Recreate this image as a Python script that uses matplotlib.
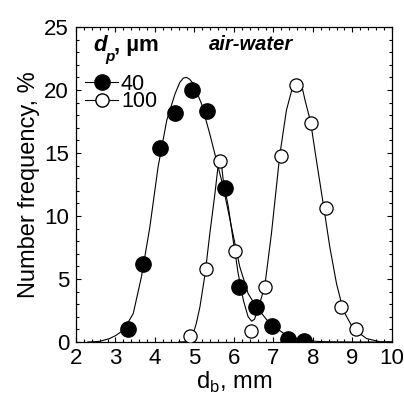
import matplotlib
import matplotlib.pyplot as plt
from matplotlib.ticker import MultipleLocator
from matplotlib.lines import Line2D

matplotlib.use('agg')

plt.rcParams['font.family'] = ['Liberation Sans', 'DejaVu Sans']
plt.rcParams['mathtext.fontset'] = 'custom'
plt.rcParams['mathtext.rm'] = 'Liberation Sans'

# measured points, d_p = 40 um (filled) and 100 um (open)
db_40 = [3.32, 3.70, 4.13, 4.52, 4.93, 5.33, 5.77, 6.14, 6.56, 6.97, 7.38, 7.78]
freq_40 = [1.0, 6.2, 15.4, 18.2, 20.0, 18.3, 12.2, 4.4, 2.8, 1.25, 0.2, 0.05]
db_100 = [4.89, 5.29, 5.65, 6.03, 6.42, 6.79, 7.18, 7.57, 7.94, 8.33, 8.70, 9.09]
freq_100 = [0.45, 5.8, 14.4, 7.2, 0.85, 4.4, 14.8, 20.4, 17.4, 10.6, 2.8, 1.0]

# fitted curves
fit_x_40 = [2.3, 2.6, 2.85, 3.0, 3.2, 3.45, 3.66, 3.87, 4.08, 4.3, 4.51, 4.63,
            4.72, 4.8, 4.88, 4.97, 5.18, 5.39, 5.56, 5.73, 5.94, 6.15, 6.36,
            6.57, 6.91, 7.33, 7.75, 8.2, 9.0, 10.0]
fit_y_40 = [0.0, 0.05, 0.27, 0.5, 0.93, 2.25, 5.2, 9.1, 13.9, 17.6, 19.7, 20.6,
            20.95, 21.0, 20.85, 20.5, 18.9, 16.5, 14.4, 12.3, 9.1, 5.95, 3.84,
            2.78, 1.46, 0.53, 0.13, 0.03, 0.0, 0.0]
fit_x_100 = [4.6, 4.8, 4.9, 4.97, 5.05, 5.14, 5.27, 5.39, 5.52, 5.6, 5.64, 5.68,
             5.73, 5.86, 5.98, 6.11, 6.24, 6.36, 6.45, 6.52, 6.6, 6.78, 6.95,
             7.16, 7.33, 7.5, 7.58, 7.64, 7.7, 7.8, 7.94, 8.09, 8.26, 8.43, 8.6,
             8.77, 9.02, 9.36, 9.7, 10.0]
fit_y_100 = [0.0, 0.02, 0.2, 0.67, 1.5, 2.8, 5.4, 8.6, 11.8, 14.0, 14.55, 14.3,
             12.8, 10.7, 8.1, 5.4, 3.3, 2.0, 1.65, 1.8, 2.5, 4.4, 8.6, 14.8,
             18.4, 20.4, 20.8, 20.8, 20.6, 19.2, 17.5, 14.4, 11.0, 7.5, 4.6,
             2.5, 1.06, 0.27, 0.02, 0.0]

fig = plt.figure(figsize=(4.04, 3.94), dpi=100)
ax = fig.add_axes([0.188, 0.132, 0.782, 0.7995])

ax.plot(fit_x_40, fit_y_40, color='black', lw=0.8)
ax.plot(fit_x_100, fit_y_100, color='black', lw=0.8)
ax.plot(db_40, freq_40, 'o', color='black', ms=11, zorder=3)
ax.plot(db_100, freq_100, 'o', mfc='white', mec='black', mew=0.9, ms=9.5, zorder=3)

ax.set_xlim(2, 10)
ax.set_ylim(0, 25)
ax.xaxis.set_major_locator(MultipleLocator(1))
ax.xaxis.set_minor_locator(MultipleLocator(0.2))
ax.yaxis.set_major_locator(MultipleLocator(5))
ax.yaxis.set_minor_locator(MultipleLocator(1))
ax.tick_params(which='both', direction='in', top=True, right=True, labelsize=16, width=0.8)
ax.tick_params(which='major', length=3.5, pad=4)
ax.tick_params(which='minor', length=2)
ax.tick_params(axis='y', pad=5)
for s in ax.spines.values():
    s.set_linewidth(0.9)

ax.set_xlabel(r'd$_\mathregular{b}$, mm', fontsize=17, labelpad=1)
ax.set_ylabel('Number frequency, %', fontsize=17, labelpad=3)

# legend title and label
ax.text(0.054, 0.925, 'd', transform=ax.transAxes, fontsize=16,
        fontweight='bold', fontstyle='italic')
ax.text(0.092, 0.893, 'p', transform=ax.transAxes, fontsize=11,
        fontweight='bold', fontstyle='italic')
ax.text(0.12, 0.925, ', µm', transform=ax.transAxes, fontsize=16, fontweight='bold')
ax.text(0.554, 0.943, 'air-water', transform=ax.transAxes, fontsize=14.5,
        fontweight='bold', fontstyle='italic', ha='center', va='center')

handles = [Line2D([], [], color='black', lw=0.8, marker='o', ms=11),
           Line2D([], [], color='black', lw=0.8, marker='o', ms=9.5,
                  mfc='white', mec='black')]
ax.legend(handles, ['40', '100'], loc='upper left', bbox_to_anchor=(0.03, 0.852),
          frameon=False, fontsize=15.5, handlelength=1.5, handletextpad=0.15,
          labelspacing=-0.15, borderpad=0, borderaxespad=0)

plt.savefig('out.png', dpi=100)
